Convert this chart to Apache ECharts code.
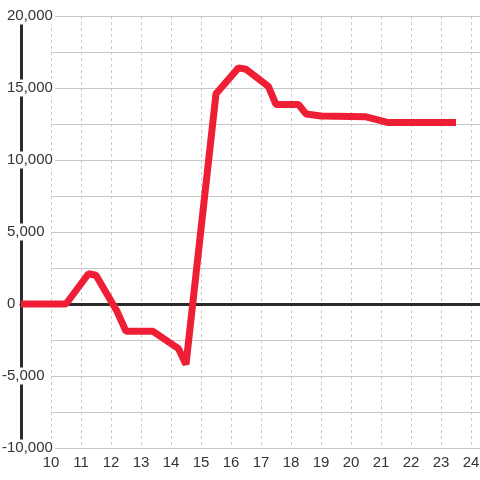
<!DOCTYPE html>
<html>
<head>
<meta charset="utf-8">
<script src="https://cdn.jsdelivr.net/npm/echarts@6/dist/echarts.min.js"></script>
<style>
html,body{margin:0;padding:0;background:#fff;}
#c{width:480px;height:480px;}
</style>
</head>
<body>
<div id="c"></div>
<script>
var xValues = [9, 10, 10.5, 11.25, 11.5, 12.2, 12.5, 13.4, 14.25, 14.5, 15.5, 16.25, 16.5, 17.25, 17.5, 18.25, 18.5, 19, 20.5, 21.25, 23.5];
var yValues = [0, 0, 0, 2100, 2000, -500, -1900, -1900, -3100, -4200, 14600, 16400, 16300, 15100, 13850, 13850, 13200, 13050, 13000, 12600, 12600];
var xTicks = [10, 11, 12, 13, 14, 15, 16, 17, 18, 19, 20, 21, 22, 23, 24];
var yTicks = [-10000, -5000, 0, 5000, 10000, 15000, 20000];

var chart = echarts.init(document.getElementById('c'));
var pts = xValues.map(function (x, i) { return [x, yValues[i]]; });
var font = "'Liberation Sans', Arial, sans-serif";
var X_MAX = 24.3;

chart.setOption({
  animation: false,
  backgroundColor: '#ffffff',
  grid: [
    { left: 51, right: 0, top: 16, bottom: 32, containLabel: false, outerBoundsMode: 'none' },
    { left: 21, right: 0, top: 16, bottom: 32, containLabel: false, outerBoundsMode: 'none' }
  ],
  xAxis: [{
    gridIndex: 0,
    type: 'value',
    min: xTicks[0],
    max: X_MAX,
    interval: 1,
    axisLine: { show: false, onZero: false },
    axisTick: { show: false },
    axisLabel: {
      margin: 7,
      color: '#333',
      fontSize: 15,
      fontFamily: font,
      formatter: function (v) { return xTicks.indexOf(v) >= 0 ? String(v) : ''; },
      showMaxLabel: false
    },
    splitLine: { show: true, lineStyle: { color: '#c8c8c8', type: [3, 3], width: 1 } }
  }, {
    gridIndex: 1,
    type: 'value',
    min: xValues[0],
    max: X_MAX,
    interval: 1,
    axisLine: { show: true, onZero: true, lineStyle: { color: '#2b2b2b', width: 3 } },
    axisTick: { show: false },
    axisLabel: { show: false },
    splitLine: { show: false }
  }],
  yAxis: [{
    gridIndex: 0,
    type: 'value',
    min: yTicks[0],
    max: yTicks[yTicks.length - 1],
    interval: 2500,
    axisLine: { show: false },
    axisTick: { show: false },
    axisLabel: { show: false },
    splitLine: { show: true, lineStyle: { color: '#c8c8c8', width: 1 } }
  }, {
    gridIndex: 1,
    type: 'value',
    min: yTicks[0],
    max: yTicks[yTicks.length - 1],
    interval: 2500,
    axisLine: { show: true, onZero: false, lineStyle: { color: '#2b2b2b', width: 3 } },
    axisTick: { show: false },
    axisLabel: {
      margin: 19,
      align: 'left',
      color: '#333',
      fontSize: 15,
      fontFamily: font,
      backgroundColor: '#ffffff',
      padding: [1, 2, 1, 0],
      formatter: function (v) {
        if (yTicks.indexOf(v) < 0) return '';
        var s = v.toLocaleString('en-US');
        return v < 0 ? s : '{p|' + s + '}';
      },
      rich: {
        p: { padding: [0, 0, 0, 5], color: '#333', fontSize: 15, fontFamily: font }
      }
    },
    splitLine: { show: false }
  }],
  series: [{
    type: 'line',
    xAxisIndex: 1,
    yAxisIndex: 1,
    data: pts,
    showSymbol: false,
    symbol: 'none',
    lineStyle: { color: '#ee1f35', width: 7, join: 'bevel' },
    z: 5
  }]
});
</script>
</body>
</html>
